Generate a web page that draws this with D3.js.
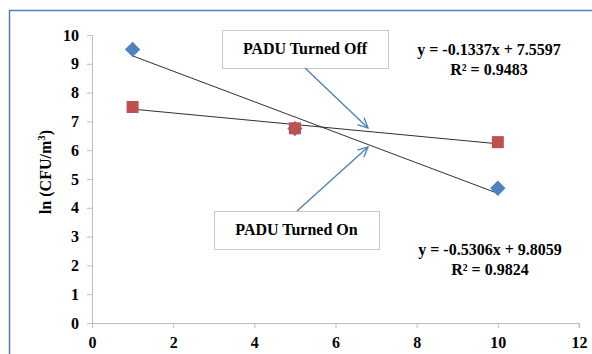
<!DOCTYPE html>
<html>
<head>
<meta charset="utf-8">
<script src="https://cdn.jsdelivr.net/npm/d3@7"></script>
<style>
  body { margin: 0; background: #fff; }
  svg text { font-family: "Liberation Serif", "DejaVu Serif", "Times New Roman", serif !important; font-weight: bold; fill: #000; }
</style>
</head>
<body>
<svg id="chart" width="592" height="354"></svg>
<script>
// data
var xValues = [1, 5, 10];
var turnedOn = [9.50, 6.75, 4.68];   // blue diamonds
var turnedOff = [7.50, 6.76, 6.28];  // red squares

var xTicks = [0, 2, 4, 6, 8, 10, 12];
var yTicks = [0, 1, 2, 3, 4, 5, 6, 7, 8, 9, 10];

// trendline coefficients [slope, intercept]
var onFit = [-0.5306, 9.8059];
var offFit = [-0.1337, 7.5597];
var onLabels = ["y = -0.5306x + 9.8059", "R\u00b2 = 0.9824"];
var offLabels = ["y = -0.1337x + 7.5597", "R\u00b2 = 0.9483"];

var svg = d3.select("#chart");

// outer frame
svg.append("rect")
    .attr("x", 9.5).attr("y", 10.5)
    .attr("width", 600).attr("height", 360)
    .attr("fill", "none")
    .attr("stroke", "#4f81bd")
    .attr("stroke-width", 1.5);

var x = d3.scaleLinear().domain([0, 12]).range([92, 579]);
var y = d3.scaleLinear().domain([0, 10]).range([323, 35]);

var xAxis = svg.append("g")
    .attr("transform", "translate(0," + y(0) + ")")
    .call(d3.axisBottom(x).tickValues(xTicks).tickSize(5).tickPadding(6));

var yAxis = svg.append("g")
    .attr("transform", "translate(" + x(0) + ",0)")
    .call(d3.axisLeft(y).tickValues(yTicks).tickSize(5).tickPadding(8));

[xAxis, yAxis].forEach(function(g) {
    g.attr("font-family", null).attr("font-size", null);
    g.select(".domain").attr("stroke", "#bfbfbf");
    g.selectAll(".tick line").attr("stroke", "#bfbfbf");
    g.selectAll(".tick text")
        .style("font-size", "16px")
        .attr("fill", "#000");
});
xAxis.select(".domain").attr("d", "M" + x(0) + ",0.5H" + x(12) + "V5");
xAxis.selectAll(".tick text").attr("dy", "0.9em");

// y axis title
var title = svg.append("text")
    .attr("transform", "translate(51,172) rotate(-90)")
    .attr("text-anchor", "middle")
    .style("font-size", "16px")
    .text("ln (CFU/m");
title.append("tspan").attr("dy", -6).style("font-size", "11px").text("3");
title.append("tspan").attr("dy", 6).text(")");

// trendlines
function fitLine(fit) {
    var x0 = d3.min(xValues), x1 = d3.max(xValues);
    return [[x0, fit[0] * x0 + fit[1]], [x1, fit[0] * x1 + fit[1]]];
}
var line = d3.line()
    .x(function(d) { return x(d[0]); })
    .y(function(d) { return y(d[1]); });

[onFit, offFit].forEach(function(fit) {
    svg.append("path")
        .attr("d", line(fitLine(fit)))
        .attr("fill", "none")
        .attr("stroke", "#303030")
        .attr("stroke-width", 1);
});

// markers
svg.selectAll(".on")
    .data(turnedOn)
    .enter().append("path")
    .attr("class", "on")
    .attr("d", d3.symbol().type(d3.symbolDiamond2).size(150))
    .attr("transform", function(d, i) { return "translate(" + x(xValues[i]) + "," + y(d) + ")"; })
    .attr("fill", "#4f81bd");

svg.selectAll(".off")
    .data(turnedOff)
    .enter().append("rect")
    .attr("class", "off")
    .attr("x", function(d, i) { return x(xValues[i]) - 6; })
    .attr("y", function(d) { return y(d) - 6; })
    .attr("width", 12).attr("height", 12)
    .attr("fill", "#c0504d");

// callout boxes
function callout(bx, by, bw, bh, label) {
    svg.append("rect")
        .attr("x", bx + 0.5).attr("y", by + 0.5)
        .attr("width", bw).attr("height", bh)
        .attr("fill", "#fff")
        .attr("stroke", "#c8c8c8")
        .attr("stroke-width", 1);
    svg.append("text")
        .attr("x", bx + bw / 2).attr("y", by + bh / 2 + 5)
        .attr("text-anchor", "middle")
        .style("font-size", "16px")
        .text(label);
}
callout(222, 30, 166, 38, "PADU Turned Off");
callout(214, 211, 165, 38, "PADU Turned On");

// arrows with open heads
function arrow(x0, y0, x1, y1) {
    var a = Math.atan2(y1 - y0, x1 - x0), len = 11, spread = 0.45;
    svg.append("line")
        .attr("x1", x0).attr("y1", y0).attr("x2", x1).attr("y2", y1)
        .attr("stroke", "#4a7ebb").attr("stroke-width", 1.3);
    svg.append("path")
        .attr("d", "M" + (x1 - len * Math.cos(a - spread)) + "," + (y1 - len * Math.sin(a - spread)) +
            "L" + x1 + "," + y1 +
            "L" + (x1 - len * Math.cos(a + spread)) + "," + (y1 - len * Math.sin(a + spread)))
        .attr("fill", "none")
        .attr("stroke", "#4a7ebb").attr("stroke-width", 1.3);
}
arrow(305, 68, 368, 128);
arrow(297, 211, 368, 147);

// equation labels
function equation(cx, cy, lines) {
    lines.forEach(function(t, i) {
        svg.append("text")
            .attr("x", cx).attr("y", cy + i * 20)
            .attr("text-anchor", "middle")
            .style("font-size", "16px")
            .text(t);
    });
}
equation(489, 55, offLabels);
equation(490, 255, onLabels);
</script>
</body>
</html>
